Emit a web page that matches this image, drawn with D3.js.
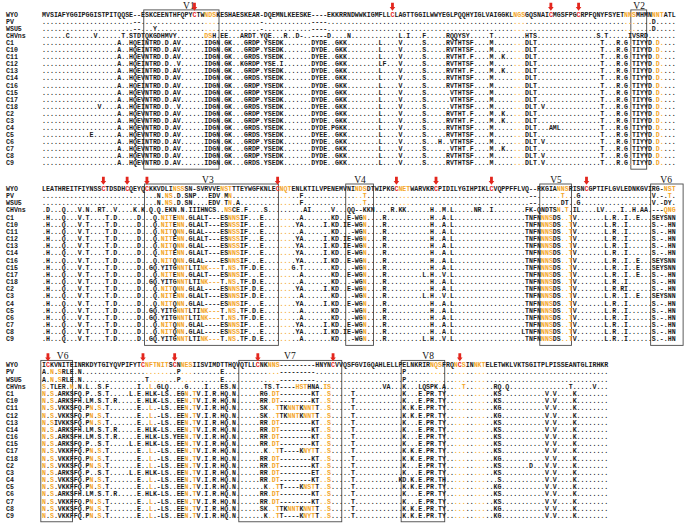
<!DOCTYPE html>
<html><head><meta charset="utf-8">
<script src="https://cdn.jsdelivr.net/npm/d3@7"></script>
<style>html,body{margin:0;padding:0;background:#fff;}svg{display:block;}</style>
</head><body>
<script>
// ---------------- DATA ----------------
// lowercase = orange letter (glycosylation site), ',' = orange dot, '~' = orange gap
const rowNames = ["WYO","PV","WSU5","CHVns","C1","C10","C11","C12","C13","C14","C16","C15","C17","C18","C2","C3","C4","C5","C6","C7","C8","C9"];

const block1A = [
"MVSIAFYGGIPGGISTPITQQSE--ESKCEENTHFQPYCTWndsKE",
".......................--................,,,..",
".......................--...Y............,,,..",
"......C......V......T.STDTQKGDHMVY.......dsH.E",
"...................A..HQEINTRD.D.AV......IDGN.",
"...................A..HQEINTRD.D.AV......IDGN.",
"...................A..HQEVNTRD.D.AV......IDGN.",
"...................A..HQEINTRD.D..V......IDGN.",
"...................A..HQEINTRD.D.AV......IDGN.",
"...................A..HQEVNTRD.D.AV......IDGN.",
"...................A..HQEINTRD.D.AV......IDGN.",
"...................A..HQEVNTRD.D.AV......IDGN.",
"...................A..HQEVNTRD.D.AV......IDGN.",
"..............V....A..HQEINTRD.D..V......IDGN.",
"...................A..HQEVNTRD.D.AV......IDGN.",
"...................A..HQEVNTRD.D.AV......IDGN.",
"...................A..HQEVNTRD.D.AV......IDGN.",
"............E......A..HQEVNTRD.D.AV......IDGN.",
"...................A..HQEINTRD.D.AV......IDGN.",
"...................A..HQEVNTRD.D.AV......IDGN.",
"...................A..HQEVNTRD.D.AV......IDGN.",
"...................A..HQEVNTRD.D.AV......IDGN."];
const block1B = [
"SHAESKEAR-DQEMNLKEESKE----EKKRRNDWWKIGMFLLCLAGTTGGILWWYEGLP",
".........-............----.................................",
".........-............----.................................",
"E...ARDT.YQE...R..D-..----D....N............L.I...F.....RQQ",
"GK...GRDP.YSEDK.......DYDE..GKK........L....V.....S.....RVT",
"GK...GRDP.YSEDK.......DYDE..GKK........L....V.....S.....RVT",
"GK...GRDS.YSEDK.......DYEE..GKK........L....V.....S.....RVT",
"GK..KGRDP.YSE.I.......DYDE..GKK........LF...V.....S.....RVT",
"GK...GRDP.YSEDK.......DYDE..GKK........L....V.....S.....RVT",
"GK...GRDS.YSEDK.......DYEE..GKK........L....V.....S.....RVT",
"GK...GRDP.YSEDK.......DYDE..GKK........L....V.....S.....RVT",
"GK...GRDP.YSEDK.......DYDE..GKK........L....V.....S......VT",
"GK...GRDP.YSEDK.......DYDE..GKK........L....V.....S......VT",
"GK...GRDS.YSEDK.......DYEE..GKK........L....V.....S......VT",
"GK...GRDP.YSEDK.......DYDE..GKK........L....V.....S.....RVT",
"GK...GRDP.YSEDK.......DYDE..GKK........L....V.....S.....RVT",
"GK...GRDS.YSEDK.......DYDE.PGKK........L....V.....S.....RVT",
"GK...GRDS.YSEDK.......DYEE..GKK........L....V.....S.....RVT",
"GK...GRDP.YSEDK.......DYDE..GKK........L....V.....S...H..VT",
"GK...GRDP.YSEDK.......DYDE..GKK........L....V.....S......VT",
"GK...GRDP.YSEDK.......DYDE..GKK........L....V.....S.....RVT",
"GK...GRDS.YSEDK.......DYDE..GKK........L....V.....S.....RVT"];
const block1C = [
"QQHYIGLVAIGGKLngsGQSNAICMGSFPGCRPFQNYFSYETnnsMHMNnntATL",
"..............,,,.........................,,,....D.....",
"..............,,,.........................,,,....D.....",
"YSY.....T........HTS...............S.T.....IVSRD.......",
"HTSF....M.....,,,DLT................T...R.G,TIYYD,d,...",
"HTSF....M.....,,,DLT................T...R.G,TIYYD,d,...",
"HT.F....M..K..,,,DLT................T...R.G,TIYYD,d,...",
"HTSF....M.....,,,DLT................T...R.G,TIYYD,d,...",
"HT.F....M..K..,,,DLT................T...R.G,TIYYD,d,...",
"HTSF....M.....,,,DLT................T...R.G,TIYYD,d,...",
"HTSF....M.....,,,DLT................T...R.G,TIYYD,d,...",
"HTSF....M.....,,,DLT................T...R.G,TIYYD,d,...",
"HTSF....M.....,,,DLT................T...R.G,TIYYG,d,...",
"HTSF....M.....,,,DLT.V..............T...R.G,TIYYD,d,...",
"HT.F....M..K..,,,DLT................T...R.G,TIYYD,d,...",
"HT.F....M..K..,,,DLT................T...R.G,TIYYD,d,...",
"HTSF....M.....,,,DLT...AML..........T...R.G,TIYYD,d,...",
"HTSF....M.....,,,DLT................T...R.G,TIYYD,d,...",
"HTSF....M.....,,,DLT.V..............T...R.G,TIYYD,d,...",
"HT.F....M..K..,,,DLT................T...R.G,TIYYD,d,...",
"HTSF....M.....,,,DLT.V..............T...R.G,TIYYD,d,...",
"HTSF....M.....,,,DLT.V..............T...R.G,TIYYD,d,..."];

const block2A = [
"LEATHREITFIYNSSCTDSDHCQEYQCKKVDLInssSN-SVRVVEn",
".............................N.ns.D.SNP...EDV,",
".............................N.ns.D.SN....EDV,",
".D...Q...V.N..RT..V....K.K.Q.Q.EKN.N.IIIHNCS..",
".H...Q...V.T....T.D.....D...Q.nitEnn.GLALT---E",
".H...Q...V.T....T.D.....D...Q.nitEnn.GLALT---E",
".H...Q...V.T....T.D.....D...Q.nitQnn.GLAL----E",
".H...Q...V.T....T.D.....D...Q.nitEnn.GLALT---E",
".H...Q...V.T....T.D.....D...Q.nitQnn.GLAL----E",
".H...Q...V.T....T.D.....D...Q.nitEnn.GLALT---E",
".H...Q...V.T....T.D.....D...Q.nitQnn.GLAL----E",
".H...Q...V.T....T.D.....D..GQ.YITGnntLTInk~~~T",
".H...Q...V.T....T.D.....D...Q.nitEnn.GLALT---E",
".H...Q...V.T....T.D.....D..GQ.YITGnntLTInk~~~T",
".H...Q...V.T....T.D.....D...Q.nitQnn.GLAL----E",
".H...Q...V.T....T.D.....D...Q.nitEnn.GLALT---E",
".H...Q...V.T....T.D.....D...Q.nitQnn.GLAL----E",
".H...Q...V.T....T.D.....D..GQ.YITGnntLTInk~~~T",
".H...Q...V.T....T.D.....D..GQ.YITGnntLTInk~~~T",
".H...Q...V.T....T.D.....D...Q.nitQnn.GLAL----E",
".H...Q...V.T....T.D.....D...Q.nitQnn.GLAL----E",
".H...Q...V.T....T.D.....D..GQ.YITGnntLTInk~~~T"];
const block2B = [
"stTTEYWGFKNLECnqtENLKTILVPENEMVNIndsDTWIPKGCnetWARVKRCPIDI",
"Mn............,,,..F.............,,t........,,,...........",
"Tn.A..........,,,..F.............,,t........,,,...........",
"nsCE.F....S.........AI.....V...QQ--KKN....R.KK......H..M.L",
"SnnsIF...E....,,,..A.......KD..E-WGn....R...........H..A.L",
"SnssIF...E....,,,.YA.....I.KD.IE-WGn....R...........H..A.L",
"SnssIF...E....,,,..A.......KD...-WGn....R...........H..A.L",
"SnssIF...E....,,,.YA.....I.KD.IE-WGn....R...........H..A.L",
"SnssIF...E....,,,.YA.....I.KD.IE-WGn....R...........H..A.L",
"SnnsIF...E....,,,.YA.....I.KD..E-WGn....R...........H..A.L",
"SnnsIF...E....,,,.YA.....I.KD..E-WGn....R...........H..A.L",
".ns.TF.D.E....,,,G.T.......KD...-WGn....R...........H..A.L",
"SnnsIF...E....,,,..A.......KD..E-WGn....R.........L.H..V.L",
".ns.TF.D.E....,,,..A.......KD...-WGn....R...........H..A.L",
"SnnsIF.D.E....,,,.YA.....I.KD..E-WGn....R...........H..A.L",
"SnnsIF.D.E....,,,..A.......KD...-WGn....R.........L.H..V.L",
"SnnsIF...E....,,,.YA.....I.KD..E-WGn....R...........H..A.L",
".ns.TF.D.E....,,,..A.......KD...-WGn....R...........H..A.L",
".ns.TF.D.E....,,,..A.......KD...-WGn....R...........H..A.L",
"SnnsIF...E....,,,.YA.....I.KD..E-WGn....R...........H..A.L",
"SnssIF...E....,,,.YA.....I.KD.IE-WGn....R...........H..A.L",
".ns.TF.D.E....,,,..A.......KD...-WGn....R.........L.H..V.L"];
const block2C = [
"LYGIHPIKLCVQPPFFLVQ--RKGIAnnsRISNCGPTIFLGVLEDNKGVIRG-nst",
"...................--.....,t,..G..................V.-.t.",
"...................--......DT..G..................V.-DY.",
".....NR..I........FK-QNDTSn.t.IL....LV....I..H.AA.---qng",
"..................TNFNnnsDS,,tV.......L.R..I..E...SEYSNN",
"..................TNFNnnsDS,,tV.......L.R..I......S.-.HN",
"..................TNFNnnsDS,,tV.......L.R..I......S.-.HN",
"..................TNFNnnsDS,,tV.......L.R..I......S.-.HN",
"..................TNFNnnsDS,,tV.......L.R..I......S.-.HN",
"..................TNFNnnsDS,,tV.......L.R..I......S.-.HN",
"..................TNFNnnsDS,,tV.......L.R..I..E...SEYSNN",
"..................TNFNnnsDS,,tV.......L.R..I..E...SEYSNN",
"..................TNFNnnsDS,,tV.......L.R..I..E...S.-.HN",
"..................TNFNnnsDS,,tV.......L.R..I......S.-.HN",
"..................TNFNnnsDS,,tV.......L.R.RI......S.-.HN",
"..................TNFNnnsDS,,tV.......L.R..I..E...SEYSNN",
"..................TNFNnnsDS,,tV.......L.R..I......S.-.HN",
"..................TNFNnnsDS,,tV.......L.R..I......S.-.HN",
"..................TNFNnnsDS,,tV.......L.R..I......S.-.HN",
"..................TNFNnnsDS,,tV.......L.R..I......S.-.HN",
".................LTNFNnnsDS,,tV.......L.R..I......S.-.HN",
"..................TNFNnnsDS,,tV.......L.R..I......S.-.HN"];

const block3A = [
"ICKVNITEINRKDYTGIYQVPIFYTCnftnitSCNnesIISVIMDT",
"A.n.sRLE.N................,,,,,,..P,,,.......E",
"A.n.sRLE.N................T,,,,,..P,,,.......E",
"s.TLER.n.N.L..S.F.......I..l.GLQ....G....I...E",
"n.s.ARKSFQ.P..S.T.....L.E.HLK-LS..EGn.tV.I.R.H",
"n.s.ARKSFH.LM.S.T.R.....E.HLK-LS..EEn.tV.I.R.H",
"n.s.VKKSFQ.Pn.s.T.......E..l.-LS..EEn.tV.I.R.H",
"n.s.VKKSFQ.Pn.s.T.......E..l.-LS..EEn.tV.I.R.H",
"n.sIVKKSFQ.Pn.s.T.......E..l.-LS..EEn.tV.I.R.H",
"n.s.ARKSFH.LM.S.T.R.....E.HLK-LS..EEn.tV.I.R.H",
"n.s.ARKSFH.LM.S.T.R.....E.HLK-LS.YEEn.tV.I.R.H",
"n.s.ARKSFQ.P..S.T.....L.E.HLK-LS..EEn.tV.I.R.H",
"n.s.VKKFFQ.Pn.s.T.......E..l.-LS..EEn.tV.I.R.H",
"n.s.VKKFFQ.Pn.s.T.......E..l.-LS..EEn.tV.I.R.H",
"n.s.VKKSFQ.Pn.s.T.......E..l.-LS..EEn.tV.I.R.H",
"n.s.ARKSFQ.P..S.T.....L.E.HLK-LS..EEn.tV.I.R.H",
"n.s.VKKSFQ.Pn.s.T.......E..l.-LS..EEn.tV.I.R.H",
"n.s.VKKFFQ.Pn.s.T.......E..l.-LS..EEn.tV.I.R.H",
"n.s.ARKSFH.LM.S.T.R.....E.HLK-LS..EEn.tV.I.R.H",
"n.s.VKKFFQ.Pn.s.T.......E..l.-LS..EEn.tV.I.R.H",
"n.s.VKKSFQ.Pn.s.T.......E..l.-LS..EEn.tV.I.R.H",
"n.s.VKKFFQ.Pn.s.T.......E..l.-LS..EEn.tV.I.R.H"];
const block3B = [
"THQVQTLLCNKnns---------HNYNCVVQSFGVIGQAHLELLPELNKRIRnqsFRQ",
"...........,,,---------......................P......,,,...",
"...........,,,---------......................P......,,,...",
"S.N.......TS.T----hstHNA.is.............VA...K...LQSPK.A..",
"Q.N......RG,dt--------KT,,s.....T............K...E.PR.TY..",
"Q.N......RR,dt--------KT,,s.....T............K...E.PR.TY..",
"Q.N......SK,,tTKnntKnntT,,s.....T............K.K.E.PR.TY..",
"Q.N......SK,,tTKnntKnntT,,s.....T............K.K.E.PR.TY..",
"Q.N......RR,dt--------KT,,s.....T............K...E.PR.TY..",
"Q.N......RR,dt--------KT,,s.....T............K...E.PR.TY..",
"Q.N......RR,dt--------KT,,s.....T............K...E.PR.TY..",
"Q.N......RR,dt--------KT,,s.....T............K...E.PR.TY..",
"Q.N.......K,,tT----KnytT,,s.....T............K.K.E.PR.TY..",
"Q.N......RR,dt--------KT,,s.....T............K.K.E.PR.TY..",
"Q.N......RR,dt--------KT,,s.....T............K...E.PR.TY..",
"Q.N......RR,dt--------ET,,s.....T............K...E.PR.TY..",
"Q.N......RR,dt--------KT,,s.....T...........KD.K.E.PR.TH..",
"Q.N.......K,,tT----KnstT,,s.....T............K.K.E.PR.TY..",
"Q.N......RR,dt--------KT,,s.....T............K...E.PR.TY..",
"Q.N......RR,dt--------KT,,s.....T............K...E.PR.TY..",
"Q.N......SK,,tTKnntKnntT,,s.....T............K.K.E.PR.TY..",
"Q.N.......K,,tT----KnytT,,s.....T............K.K.E.PR.TY.."];
const block3C = [
"nCsINnktELETWKLVKTSGITPLPISSEANTGLIRHKR",
",,,..,,,...............................",
",,,..,,,...............................",
",,t..,,,..RQ.Q...............T.....V...",
",,,..,,,..KS...........V.V....K........",
",,,..,,,..KS...........V.V....K........",
",,,..,,,..KG...........V.V....K........",
",,,..,,,..KG...........V.V....K........",
",,,..,,,..KS...........V.V....K........",
",,,..,,,..KS...........V.V....K........",
",,,..,,,..KS...........V.V....K........",
",,,..,,,..KS...........V.V....K........",
",,,..,,,..KS...........V.V....K........",
",,,..,,,..KG...........V.V....K........",
",,,..,,,..KS.......D...V.V....K........",
",,,..,,,..KS...........V.V....K........",
",,,..,,,...S...........V.V....K........",
",,,..,,,..KG...........V.V....K........",
",,,..,,,..KS...........V.V....K........",
",,,..,,,..KS...........V.V....K........",
",,,..,,,..KG...........V.V....K........",
",,,..,,,..KG...........V.V....K........"];

// conserved cysteines (column index) marked with red arrows
const cys1 = [38, 88, 128, 135];
const cys2 = [15, 21, 26, 59, 89, 99, 113, 137];
const cys3 = [1, 25, 33, 54, 73, 105];

// variable regions: [label, startCol, endCol, labelCol]
const regions1 = [["V1", 26, 45, 37.1], ["V2", 149, 153, 150.8]];
const regions2 = [["V3", 26.2, 60, 41.9], ["V4", 77, 84, 80.3], ["V5", 126, 134, 129.8], ["V6", 154, 162.2, 157.6]];
const regions3 = [["V6", 0, 8, 5.2], ["V7", 50, 76, 62.6], ["V8", 91, 102, 97.5]];

// ---------------- DRAW ----------------
const W = 685, H = 528;
const ORANGE = "#f3a62a", RED = "#e3261d", INK = "#1a1a1a";
const svg = d3.select("body").append("svg").attr("width", W).attr("height", H)
  .style("font-family", "'Liberation Mono', 'DejaVu Sans Mono', monospace");

function fit(s, n) { return s.padEnd(n, ".").slice(0, n); }

const blocks = [
  {A: block1A, B: block1B, C: block1C, lens: [46, 59, 55], cys: cys1, regions: regions1, y0: 14.5, step: 7.07},
  {A: block2A, B: block2B, C: block2C, lens: [46, 58, 56], cys: cys2, regions: regions2, y0: 188.6, step: 7.17},
  {A: block3A, B: block3B, C: block3C, lens: [46, 58, 39], cys: cys3, regions: regions3, y0: 365.0, step: 7.17}
];

const cellW = 3.96;
const x = d3.scaleLinear().domain([0, 160]).range([42, 42 + 160 * cellW]);

blocks.forEach(b => {
  const y = d3.scaleLinear().domain([0, rowNames.length - 1])
    .range([b.y0, b.y0 + (rowNames.length - 1) * b.step]);
  const g = svg.append("g");
  const rows = rowNames.map((name, i) => ({
    name, i,
    seq: fit(b.A[i], b.lens[0]) + fit(b.B[i], b.lens[1]) + fit(b.C[i], b.lens[2])
  }));

  // region boxes
  const boxTop = y(0) - 4.6, boxBot = y(rowNames.length - 1) + 6.2;
  g.selectAll("rect.reg").data(b.regions).join("rect")
    .attr("x", d => x(d[1]) - 1.2)
    .attr("y", boxTop)
    .attr("width", d => x(d[2]) - x(d[1]))
    .attr("height", boxBot - boxTop)
    .attr("fill", "none").attr("stroke", "#4a4a4a").attr("stroke-width", 0.9);
  g.selectAll("text.reg").data(b.regions).join("text")
    .attr("x", d => x(d[3]))
    .attr("y", y(0) - 6.0)
    .attr("text-anchor", "middle")
    .style("font-family", "'Liberation Serif', 'DejaVu Serif', serif")
    .style("font-size", "9.5px")
    .attr("fill", "#111")
    .text(d => d[0]);

  // names
  g.selectAll("text.name").data(rows).join("text")
    .attr("x", 6).attr("y", d => y(d.i)).attr("dy", "0.35em")
    .style("font-size", "6.6px").style("font-weight", "bold")
    .attr("fill", INK).text(d => d.name);

  // residues
  const cells = [];
  rows.forEach(r => {
    for (let c = 0; c < r.seq.length; c++) {
      const ch = r.seq[c];
      let col = INK, t = ch;
      if (ch === ",") { t = "."; col = ORANGE; }
      else if (ch === "~") { t = "-"; col = ORANGE; }
      else if (ch >= "a" && ch <= "z") { t = ch.toUpperCase(); col = ORANGE; }
      if (r.i === 0 && b.cys.includes(c)) col = RED;
      cells.push({c, i: r.i, t, col});
    }
  });
  g.selectAll("text.res").data(cells).join("text")
    .attr("x", d => x(d.c) + cellW / 2)
    .attr("y", d => y(d.i)).attr("dy", "0.35em")
    .attr("text-anchor", "middle")
    .style("font-size", "6.6px").style("font-weight", "bold")
    .attr("fill", d => d.col).text(d => d.t);

  // red arrows
  g.selectAll("path.arrow").data(b.cys).join("path")
    .attr("transform", d => `translate(${x(d) + cellW / 2},${y(0) - 11.8})`)
    .attr("d", "M-1.4,0 L1.4,0 L1.4,4.2 L2.8,4.2 L0,8 L-2.8,4.2 L-1.4,4.2 Z")
    .attr("fill", RED);
});
</script>
</body></html>
